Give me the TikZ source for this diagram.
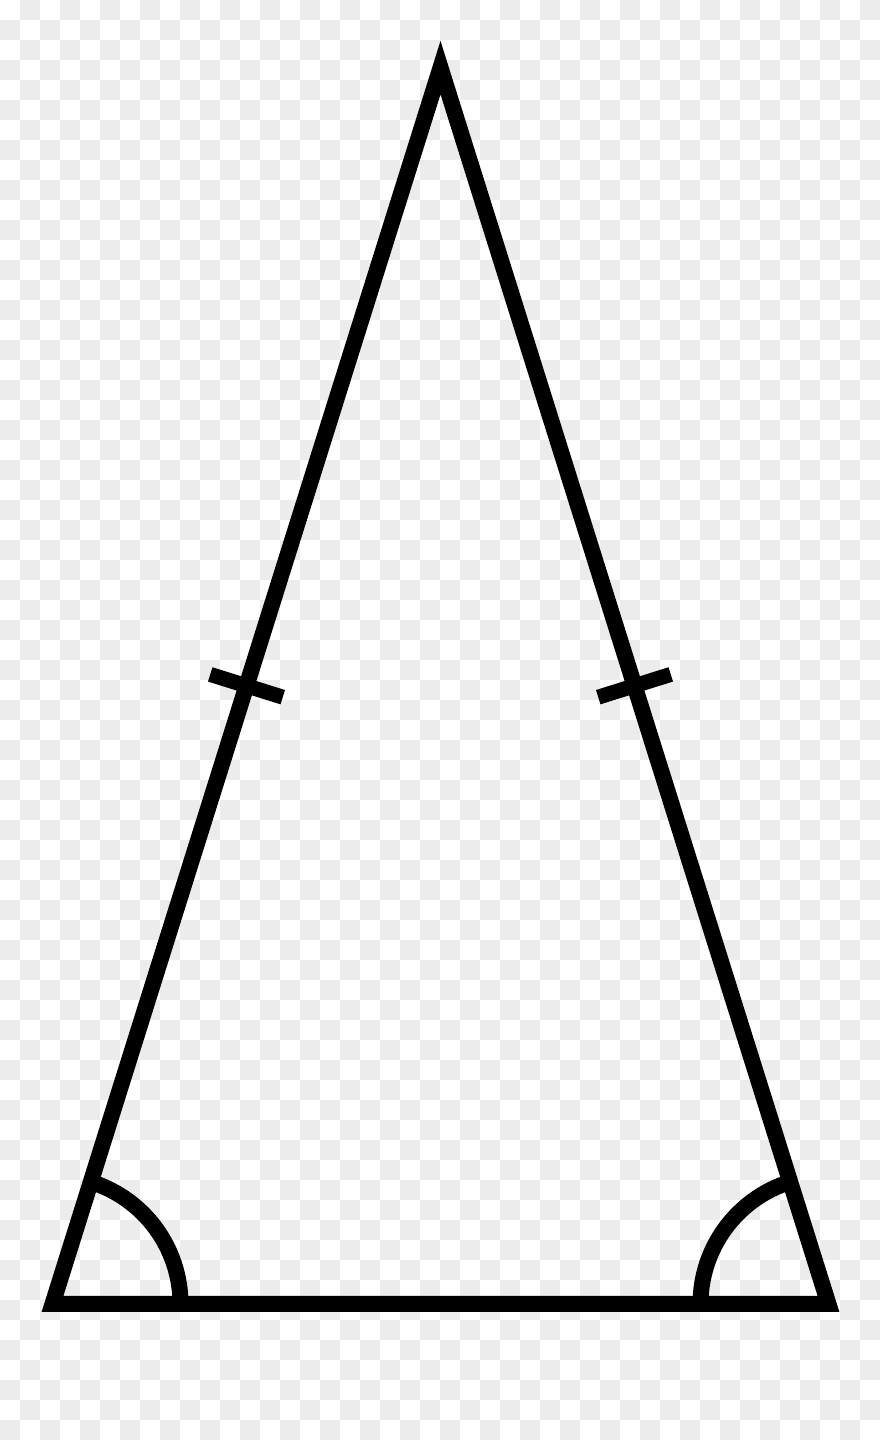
\documentclass[tikz,border=0pt]{standalone}
\usetikzlibrary{calc}
\begin{document}
\begin{tikzpicture}[x=1pt,y=1pt,
  edge/.style={line width=16pt,line join=miter,miter limit=10},
  tick/.style={line width=15pt,line cap=butt},
  anglemark/.style={line width=16pt,line cap=butt}]
\useasboundingbox (0,0) rectangle (880,1440);
% checkerboard background
\fill[white] (0,0) rectangle (880,1440);
\foreach \i in {1,3,...,43} {\foreach \j in {0,2,...,70} {\fill[gray!15] ({20*\i},{1420-20*\j}) rectangle +(20,20);}}
\foreach \i in {0,2,...,42} {\foreach \j in {1,3,...,71} {\fill[gray!15] ({20*\i},{1420-20*\j}) rectangle +(20,20);}}
% vertices
\coordinate (A) at (440.5,1372.4);
\coordinate (B) at (52.5,136);
\coordinate (C) at (828.5,136);
% triangle
\draw[edge] (A) -- (B) -- (C) -- cycle;
% equal-side ticks
\coordinate (MAB) at ($(A)!0.5!(B)$);
\coordinate (MAC) at ($(A)!0.5!(C)$);
\draw[tick] ($(MAB)!38pt!90:(A)$) -- ($(MAB)!38pt!-90:(A)$);
\draw[tick] ($(MAC)!38pt!90:(A)$) -- ($(MAC)!38pt!-90:(A)$);
% base angle arcs
\draw[anglemark] ($(B)+(128,0)$) arc[start angle=0,end angle=72.6,radius=128];
\draw[anglemark] ($(C)+(-128,0)$) arc[start angle=180,end angle=107.4,radius=128];
\end{tikzpicture}
\end{document}
